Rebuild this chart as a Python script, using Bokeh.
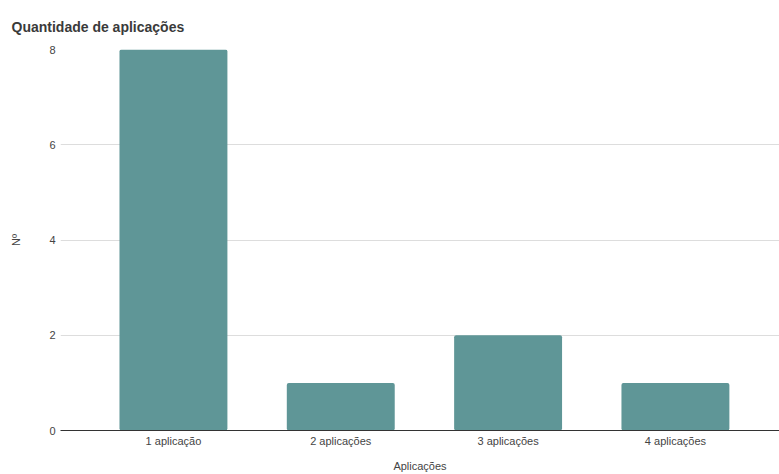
from bokeh.plotting import figure
from bokeh.models import FixedTicker, Range1d
from bokeh.embed import file_html
from bokeh.resources import INLINE

# Number of applications per respondent group
categories = ["1 aplicação", "2 aplicações", "3 aplicações", "4 aplicações"]
counts = [8, 1, 2, 1]
y_ticks = [0, 2, 4, 6, 8]

FONT = "Liberation Sans"
TEXT = "#444444"

xs = list(range(len(categories)))

p = figure(
    width=779, height=474,
    output_backend="svg", toolbar_location=None,
    x_range=Range1d(-0.675, 3.622), y_range=Range1d(0, 8),
    min_border_left=60, min_border_right=0, min_border_top=49, min_border_bottom=44,
    title="Quantidade de aplicações",
)
p.title.text_font = FONT
p.title.text_font_size = "14px"
p.title.text_font_style = "bold"
p.title.text_color = "#3a3a3a"
p.title.offset = -49
p.title.standoff = 30

p.outline_line_color = None
p.background_fill_color = "white"
p.border_fill_color = "white"

p.vbar(x=xs, top=counts, width=0.645, bottom=0, fill_color="#5F9697",
       line_color=None, border_radius=2)

# x axis
p.xaxis.ticker = FixedTicker(ticks=xs)
p.xaxis.major_label_overrides = {i: c for i, c in enumerate(categories)}
p.xaxis.axis_label = "Aplicações"
p.xaxis.axis_line_color = "#333333"
p.xaxis.major_tick_line_color = None
p.xaxis.minor_tick_line_color = None
p.xaxis.major_tick_out = 0
p.xaxis.major_label_standoff = 4
p.xaxis.axis_label_standoff = 10
p.xaxis.major_label_text_font = FONT
p.xaxis.major_label_text_font_size = "11px"
p.xaxis.major_label_text_color = TEXT
p.xaxis.axis_label_text_font = FONT
p.xaxis.axis_label_text_font_size = "11px"
p.xaxis.axis_label_text_font_style = "normal"
p.xaxis.axis_label_text_color = TEXT
p.xgrid.grid_line_color = None

# y axis
p.yaxis.ticker = FixedTicker(ticks=y_ticks)
p.yaxis.axis_label = "Nº"
p.yaxis.axis_line_color = None
p.yaxis.major_tick_line_color = None
p.yaxis.minor_tick_line_color = None
p.yaxis.major_tick_out = 0
p.yaxis.major_label_standoff = 5
p.yaxis.axis_label_standoff = 24
p.yaxis.major_label_text_font = FONT
p.yaxis.major_label_text_font_size = "11px"
p.yaxis.major_label_text_color = TEXT
p.yaxis.axis_label_text_font = FONT
p.yaxis.axis_label_text_font_size = "11px"
p.yaxis.axis_label_text_font_style = "normal"
p.yaxis.axis_label_text_color = TEXT
p.ygrid.grid_line_color = "#dddddd"

open("out.html", "w").write(file_html(p, INLINE))
